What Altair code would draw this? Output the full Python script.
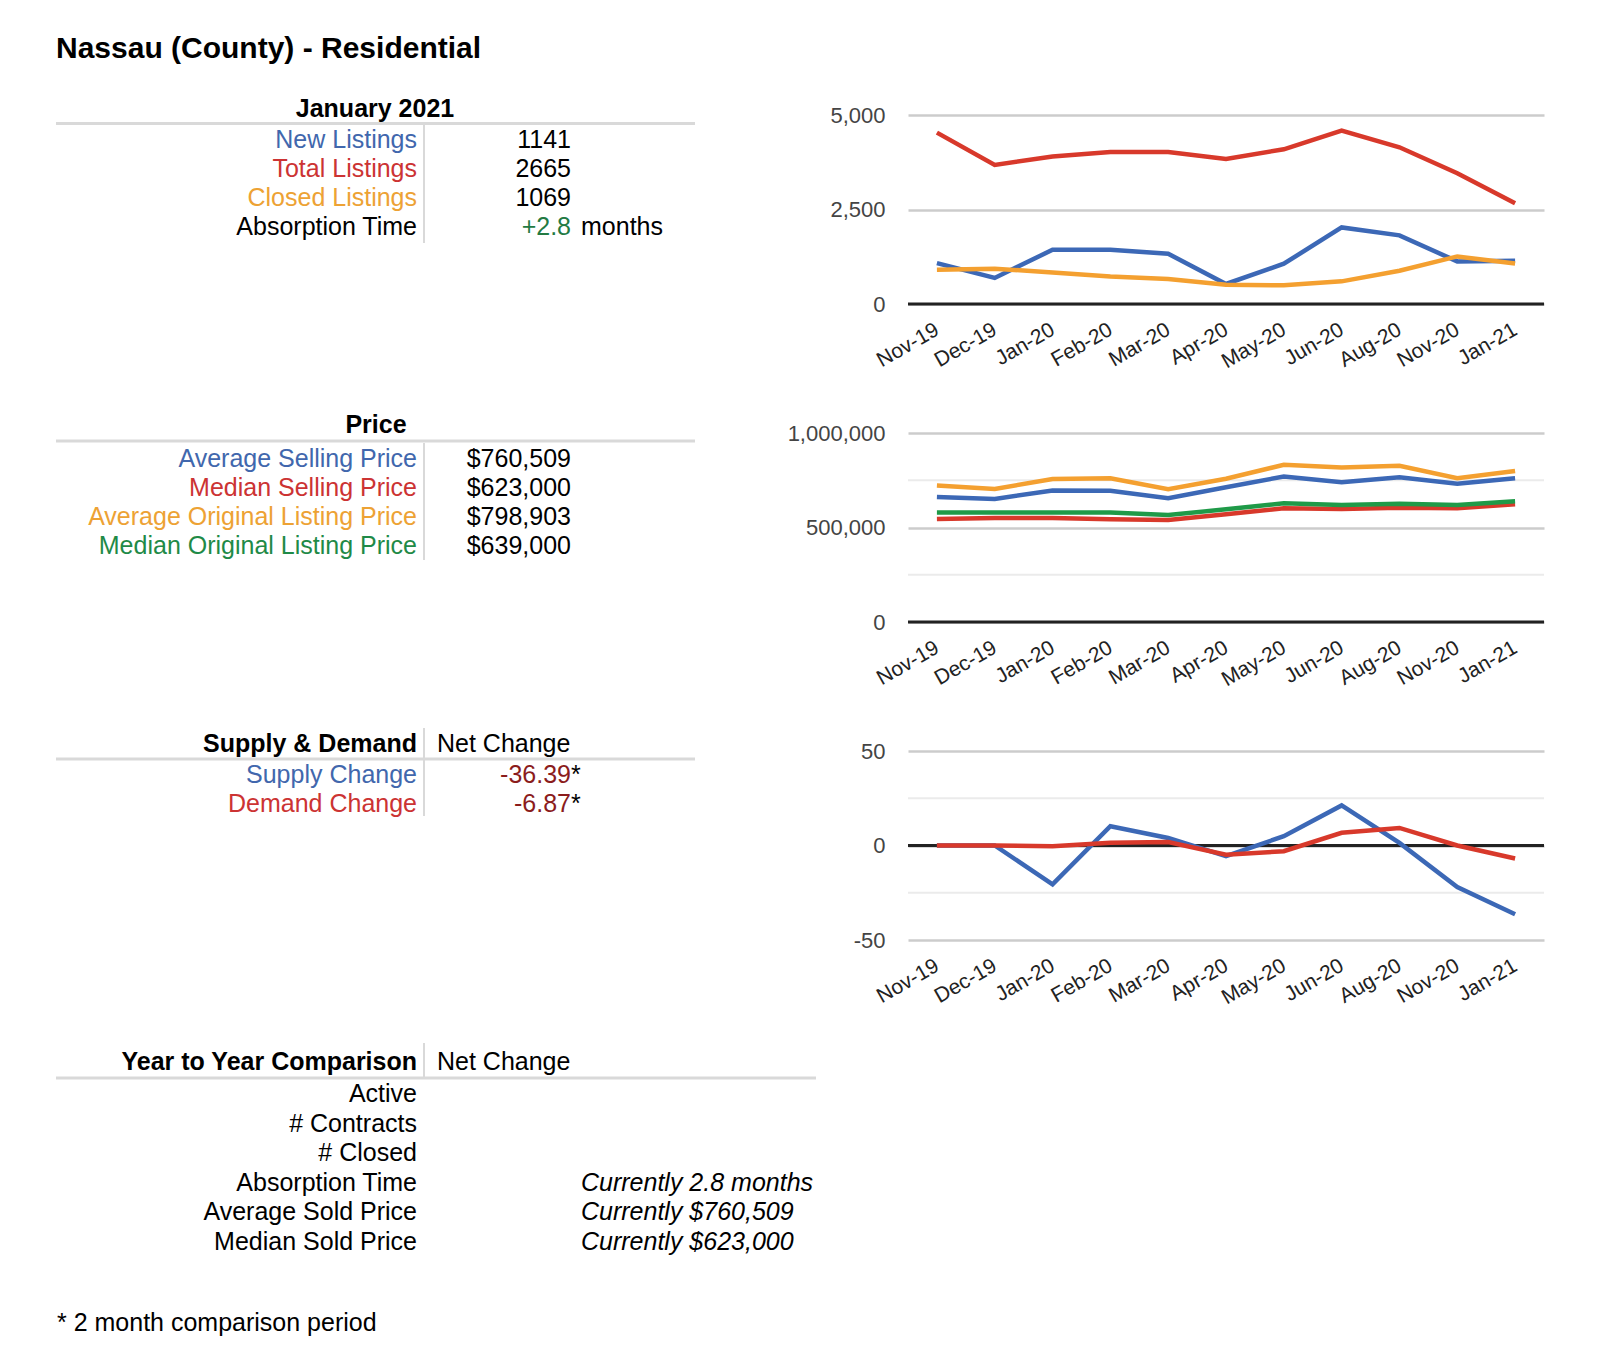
import altair as alt
import pandas as pd

# ---------------- data ----------------
months = ["Nov-19", "Dec-19", "Jan-20", "Feb-20", "Mar-20", "Apr-20",
          "May-20", "Jun-20", "Aug-20", "Nov-20", "Jan-21"]

new_listings = [1083, 690, 1435, 1435, 1330, 530, 1065, 2025, 1815, 1127, 1141]
total_listings = [4533, 3680, 3900, 4023, 4023, 3838, 4093, 4586, 4146, 3460, 2665]
closed_listings = [907, 933, 836, 730, 660, 510, 493, 599, 880, 1259, 1069]

avg_selling = [662000, 651000, 696000, 694000, 655000, 713000, 770000, 740000, 766000, 731000, 760509]
median_selling = [545000, 550000, 550000, 543000, 540000, 570000, 602000, 598000, 605000, 602000, 623000]
avg_original = [722000, 704000, 756000, 761000, 703000, 758000, 832000, 818000, 827000, 761000, 798903]
median_original = [579000, 579000, 579000, 579000, 566000, 596000, 628000, 619000, 625000, 619000, 639000]

supply_change = [0, 0, -20.5, 10.2, 4.0, -5.6, 4.9, 21.2, 1.4, -22.0, -36.39]
demand_change = [0, 0, -0.4, 1.4, 1.8, -4.9, -3.0, 6.7, 9.3, 0.0, -6.87]

page_title = "Nassau (County) - Residential"
summary_header = "January 2021"
summary_labels = ["New Listings", "Total Listings", "Closed Listings", "Absorption Time"]
summary_values = ["1141", "2665", "1069", "+2.8"]
summary_unit = "months"

price_header = "Price"
price_labels = ["Average Selling Price", "Median Selling Price",
                "Average Original Listing Price", "Median Original Listing Price"]
price_values = ["$760,509", "$623,000", "$798,903", "$639,000"]

sd_header = "Supply & Demand"
net_change_header = "Net Change"
sd_labels = ["Supply Change", "Demand Change"]
sd_values = ["-36.39", "-6.87"]

yoy_header = "Year to Year Comparison"
yoy_labels = ["Active", "# Contracts", "# Closed", "Absorption Time",
              "Average Sold Price", "Median Sold Price"]
yoy_values = ["", "", "", "Currently 2.8 months", "Currently $760,509", "Currently $623,000"]

footnote = "* 2 month comparison period"

# ---------------- styles ----------------
FONT = "Liberation Sans"
BLUE, RED, ORANGE, GREEN = "#3c68b6", "#d8392b", "#f4a030", "#1f9a48"
T_BLUE, T_RED, T_ORANGE, T_GREEN = "#4167ad", "#cc3333", "#eda234", "#1f8a47"
DARK_RED, VAL_GREEN, BLACK = "#8b1c1c", "#237a43", "#000000"
RULE_C = "#d9d9d9"

OFF_X = 8
OFF_Y = 11
W_L, H_L = 880, 1340
XS = alt.Scale(domain=[0, W_L], nice=False, zero=False)
YS = alt.Scale(domain=[0, H_L], nice=False, zero=False, reverse=True)

texts = []
rules = []


def t(kind, x, y, text, color=BLACK):
    if text:
        texts.append({"kind": kind, "x": x - OFF_X, "y": y - OFF_Y, "text": text, "color": color})


def r(x, x2, y, y2, w, color=RULE_C):
    rules.append({"x": x - OFF_X, "x2": x2 - OFF_X, "y": y - OFF_Y, "y2": y2 - OFF_Y,
                  "w": w, "color": color})


LAB_R, SEP_X, VAL_R, UNIT_L, NET_L = 417, 424, 571, 581, 437

# title
t("title", 56, 58, page_title)

# summary table
t("hc", 375, 117, summary_header)
r(56, 695, 123.5, 123.5, 3)
r(SEP_X, SEP_X, 125, 243, 2)
sum_colors = [T_BLUE, T_RED, T_ORANGE, BLACK]
for i, (lab, val) in enumerate(zip(summary_labels, summary_values)):
    yb = 148 + 29 * i
    t("lr", LAB_R, yb, lab, sum_colors[i])
    t("lr", VAL_R, yb, val, VAL_GREEN if i == 3 else BLACK)
    if i == 3:
        t("ll", UNIT_L, yb, summary_unit)

# price table
t("hc", 376, 433, price_header)
r(56, 695, 441, 441, 3)
r(SEP_X, SEP_X, 443, 560, 2)
price_colors = [T_BLUE, T_RED, T_ORANGE, T_GREEN]
for i, (lab, val) in enumerate(zip(price_labels, price_values)):
    yb = 467 + 29 * i
    t("lr", LAB_R, yb, lab, price_colors[i])
    t("lr", VAL_R, yb, val)

# supply & demand table
t("hr", LAB_R, 752, sd_header)
t("ll", NET_L, 752, net_change_header)
r(56, 695, 759, 759, 3)
r(SEP_X, SEP_X, 728, 816, 2)
sd_colors = [T_BLUE, T_RED]
for i, (lab, val) in enumerate(zip(sd_labels, sd_values)):
    yb = 783 + 29 * i
    t("lr", LAB_R, yb, lab, sd_colors[i])
    t("lr", VAL_R, yb, val, DARK_RED)
    t("ll", VAL_R, yb, "*")

# year to year table
t("hr", LAB_R, 1070, yoy_header)
t("ll", NET_L, 1070, net_change_header)
r(56, 816, 1078, 1078, 3)
r(SEP_X, SEP_X, 1043, 1077, 2)
for i, (lab, val) in enumerate(zip(yoy_labels, yoy_values)):
    yb = 1102 + 29.6 * i
    t("lr", LAB_R, yb, lab)
    t("li", UNIT_L, yb, val)

# footnote
t("ll", 57, 1331, footnote)

tdf = pd.DataFrame(texts)
rdf = pd.DataFrame(rules)

styles = {
    "title": dict(align="left", fontWeight="bold", fontSize=30),
    "hc": dict(align="center", fontWeight="bold", fontSize=25),
    "hr": dict(align="right", fontWeight="bold", fontSize=25),
    "lr": dict(align="right", fontSize=25),
    "ll": dict(align="left", fontSize=25),
    "li": dict(align="left", fontSize=25, fontStyle="italic"),
}

canvas_layers = [
    alt.Chart(rdf).mark_rule().encode(
        x=alt.X("x:Q", scale=XS, axis=None),
        x2="x2:Q",
        y=alt.Y("y:Q", scale=YS, axis=None),
        y2="y2:Q",
        color=alt.Color("color:N", scale=None),
        strokeWidth=alt.StrokeWidth("w:Q", scale=None),
    )
]
for kind, st in styles.items():
    sub = tdf[tdf["kind"] == kind]
    canvas_layers.append(
        alt.Chart(sub).mark_text(baseline="alphabetic", font=FONT, **st).encode(
            x=alt.X("x:Q", scale=XS, axis=None),
            y=alt.Y("y:Q", scale=YS, axis=None),
            text="text:N",
            color=alt.Color("color:N", scale=None),
        )
    )
left = alt.layer(*canvas_layers).properties(width=W_L, height=H_L)

# ---------------- line charts ----------------
CW, CH = 636, 189


def line_chart(names, values, colors, ticks, domain, minor):
    rows = []
    for k, (name, vals) in enumerate(zip(names, values)):
        for m, v in zip(months, vals):
            rows.append({"month": m, "series": name, "value": v, "color": colors[k]})
    df = pd.DataFrame(rows)
    ys = alt.Scale(domain=domain, nice=False, zero=False)
    y_axis = alt.Axis(
        values=ticks, grid=True, gridColor="#cccccc", gridWidth=2.5,
        domain=False, ticks=False, labelFont=FONT, labelFontSize=22,
        labelColor="#444444", labelPadding=23, title=None,
        labelExpr="datum.value < 0 ? '-' + format(-datum.value, ',') : format(datum.value, ',')",
    )
    x_axis = alt.Axis(
        labelAngle=-30, labelAlign="right", labelBaseline="middle",
        labelPadding=24, labelFont=FONT, labelFontSize=21, labelColor="#222222",
        domain=False, ticks=False, grid=False, title=None,
    )
    layers = []
    if minor:
        layers.append(
            alt.Chart(pd.DataFrame({"value": minor})).mark_rule(color="#ebebeb", strokeWidth=2)
            .encode(y=alt.Y("value:Q", scale=ys, title=None))
        )
    layers.append(
        alt.Chart(pd.DataFrame({"value": [0]})).mark_rule(color="#222222", strokeWidth=3)
        .encode(y=alt.Y("value:Q", scale=ys, title=None))
    )
    for name in names:
        layers.append(
            alt.Chart(df[df["series"] == name]).mark_line(strokeWidth=4.5).encode(
                x=alt.X("month:O", sort=months, scale=alt.Scale(type="point", padding=0.5), axis=x_axis),
                y=alt.Y("value:Q", scale=ys, axis=y_axis),
                color=alt.Color("color:N", scale=None),
            )
        )
    return alt.layer(*layers).properties(width=CW, height=CH)


c1 = line_chart(["New Listings", "Total Listings", "Closed Listings"],
                [new_listings, total_listings, closed_listings],
                [BLUE, RED, ORANGE], [0, 2500, 5000], [0, 5000], None)
c2 = line_chart(["Average Selling Price", "Median Selling Price",
                 "Average Original Listing Price", "Median Original Listing Price"],
                [avg_selling, median_selling, avg_original, median_original],
                [BLUE, RED, ORANGE, GREEN], [0, 500000, 1000000], [0, 1000000], [250000, 750000])
c3 = line_chart(["Supply Change", "Demand Change"],
                [supply_change, demand_change],
                [BLUE, RED], [-50, 0, 50], [-50, 50], [-25, 25])

spacer = alt.Chart(pd.DataFrame({"v": [0]})).mark_point(opacity=0).encode(
    x=alt.value(0), y=alt.value(0)).properties(width=CW, height=94)

right_inner = alt.vconcat(c1, c2, c3, spacing=129, bounds="flush")
right = alt.vconcat(spacer, right_inner, spacing=10, bounds="flush")

chart = alt.hconcat(left, right, spacing=20, bounds="flush").properties(
    padding=0
).configure(
    font=FONT, background="white"
).configure_view(stroke=None)

chart.save("out.html", embed_options={"renderer": "svg", "actions": False})
